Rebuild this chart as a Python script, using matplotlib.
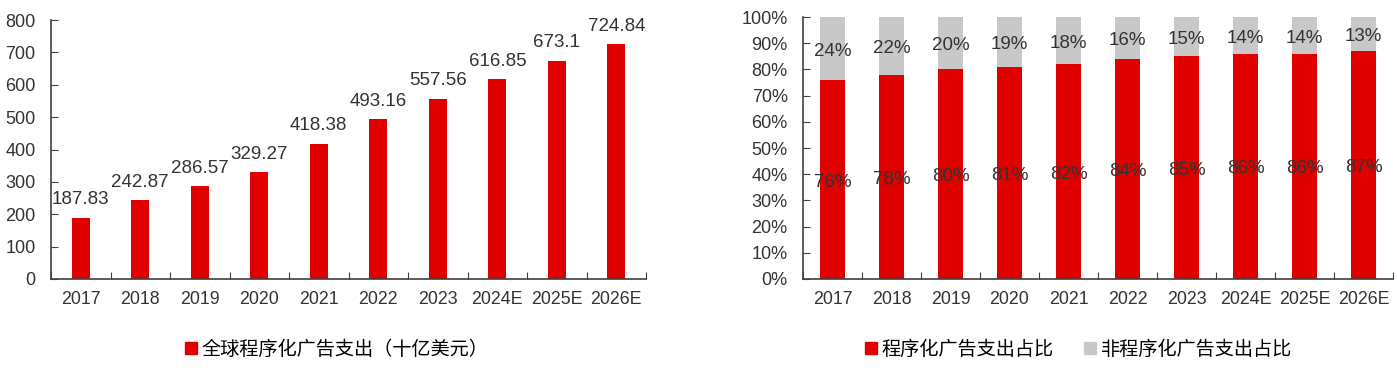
import numpy as np
import matplotlib
matplotlib.use('Agg')
import matplotlib.pyplot as plt
from matplotlib.patches import Patch

plt.rcParams['font.family'] = ['Liberation Sans', 'Noto Sans CJK SC']

# data
years = ['2017', '2018', '2019', '2020', '2021', '2022', '2023', '2024E', '2025E', '2026E']
spend = [187.83, 242.87, 286.57, 329.27, 418.38, 493.16, 557.56, 616.85, 673.1, 724.84]
prog_share = [76, 78, 80, 81, 82, 84, 85, 86, 86, 87]
nonprog_share = [24, 22, 20, 19, 18, 16, 15, 14, 14, 13]

red = '#E00000'
grey = '#C8C8C8'
txt = '#333333'
axc = '#404040'

fig = plt.figure(figsize=(13.97, 3.71), dpi=100)
ax1 = fig.add_axes([0.0365, 0.248, 0.426, 0.698])
ax2 = fig.add_axes([0.5748, 0.248, 0.4223, 0.706])

x = np.arange(len(years))


def style_axis(ax):
    for s in ['top', 'right']:
        ax.spines[s].set_visible(False)
    for s in ['left', 'bottom']:
        ax.spines[s].set_color(axc)
        ax.spines[s].set_linewidth(1.2)
    ax.set_xlim(-0.5, len(years) - 0.5)
    # boundary ticks, labels at category centers
    ax.set_xticks(np.arange(-0.5, len(years), 1))
    ax.set_xticklabels([])
    ax.set_xticks(x, minor=True)
    ax.set_xticklabels(years, minor=True)
    ax.tick_params(axis='x', which='major', direction='in', length=5, color=axc)
    ax.tick_params(axis='x', which='minor', length=0, pad=9, labelsize=12.8, labelcolor=txt)
    ax.tick_params(axis='y', direction='in', length=5, color=axc, labelsize=13,
                   labelcolor=txt, pad=11)


# left chart: programmatic ad spend
ax1.bar(x, spend, width=0.3, color=red)
for xi, v in zip(x, spend):
    ax1.annotate(f'{v:g}', (xi, v), xytext=(0, 7), textcoords='offset points',
                 ha='center', va='bottom', fontsize=13.5, color=txt)
ax1.set_ylim(0, 800)
ax1.set_yticks(range(0, 801, 100))
style_axis(ax1)

# right chart: share stacked
ax2.bar(x, prog_share, width=0.41, color=red)
ax2.bar(x, nonprog_share, width=0.41, bottom=prog_share, color=grey)
for xi, p, n in zip(x, prog_share, nonprog_share):
    ax2.text(xi, p / 2 - 1, f'{p}%', ha='center', va='center', fontsize=13.5, color=txt)
    ax2.text(xi, p + n / 2 - 1, f'{n}%', ha='center', va='center', fontsize=13.5, color=txt)
ax2.set_ylim(0, 100)
ax2.set_yticks(range(0, 101, 10))
ax2.set_yticklabels([f'{t}%' for t in range(0, 101, 10)])
style_axis(ax2)

# legends
fig.legend([Patch(color=red)], ['全球程序化广告支出（十亿美元）'], loc='center',
           bbox_to_anchor=(0.241, 0.057), frameon=False, handlelength=0.6,
           handleheight=0.6, handletextpad=0.25, prop={'size': 13.8})
fig.legend([Patch(color=red), Patch(color=grey)], ['程序化广告支出占比', '非程序化广告支出占比'],
           loc='center', bbox_to_anchor=(0.772, 0.057), frameon=False, ncol=2,
           handlelength=0.6, handleheight=0.6, handletextpad=0.25, columnspacing=1.6,
           prop={'size': 13.8})

fig.savefig('out.png', dpi=100)
